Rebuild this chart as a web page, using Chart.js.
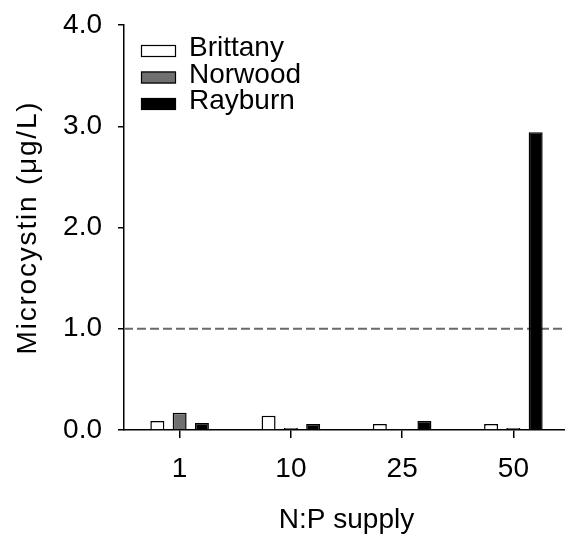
<!DOCTYPE html>
<html>
<head>
<meta charset="utf-8">
<script src="https://cdn.jsdelivr.net/npm/chart.js@4/dist/chart.umd.min.js"></script>
<style>
  html, body { margin: 0; padding: 0; background: #fff; overflow: hidden; }
  canvas { display: block; }
</style>
</head>
<body>
<canvas id="c" width="569" height="537" style="width:569px;height:537px"></canvas>
<script>
// ---- Data ----
const categories = ['1', '10', '25', '50'];
const brittany = [0.09, 0.14, 0.06, 0.06];
const norwood  = [0.17, 0.02, 0.01, 0.02];
const rayburn  = [0.07, 0.06, 0.09, 2.94];
const seriesLabels = ['Brittany', 'Norwood', 'Rayburn'];
const yTicks = [0, 1, 2, 3, 4];
const threshold = 1.0;
const xTitle = 'N:P supply';
const yTitle = 'Microcystin (\u03BCg/L)';

const FONT = "'Liberation Sans', Arial, sans-serif";
const FS = 28;
const fills = ['#ffffff', '#6f6f6f', '#000000'];

const thresholdPlugin = {
  id: 'thresholdLine',
  beforeDatasetsDraw(chart) {
    const { ctx, chartArea, scales } = chart;
    const y = scales.y.getPixelForValue(threshold);
    ctx.save();
    ctx.strokeStyle = '#6a6a6a';
    ctx.lineWidth = 2;
    ctx.setLineDash([9, 4]);
    ctx.beginPath();
    ctx.moveTo(chartArea.left, y);
    ctx.lineTo(chartArea.right, y);
    ctx.stroke();
    ctx.restore();
  }
};

// wider letter spacing for the y-axis title, as in the reference
const titleSpacingPlugin = {
  id: 'titleSpacing',
  afterLayout(chart) {
    const s = chart.scales.y;
    if (s && !s._spacedTitle) {
      const orig = s.drawTitle;
      s.drawTitle = function () {
        this.ctx.save();
        this.ctx.letterSpacing = '1.8px';
        orig.apply(this, arguments);
        this.ctx.restore();
      };
      s._spacedTitle = true;
    }
  }
};

const legendPlugin = {
  id: 'vertLegend',
  afterDraw(chart) {
    const { ctx } = chart;
    ctx.save();
    chart.data.datasets.forEach((ds, i) => {
      const cy = 51 + i * 26.5;
      ctx.fillStyle = ds.backgroundColor;
      ctx.fillRect(141, cy - 6, 35, 12);
      ctx.strokeStyle = '#000';
      ctx.lineWidth = 1.2;
      ctx.strokeRect(141.5, cy - 5.5, 34, 11);
      ctx.fillStyle = '#000';
      ctx.font = FS + 'px ' + FONT;
      ctx.textBaseline = 'middle';
      ctx.textAlign = 'left';
      ctx.fillText(ds.label, 189, cy - 2.5);
    });
    ctx.restore();
  }
};

new Chart(document.getElementById('c'), {
  type: 'bar',
  data: {
    labels: categories,
    datasets: [brittany, norwood, rayburn].map((d, i) => ({
      label: seriesLabels[i],
      data: d,
      backgroundColor: fills[i],
      borderColor: '#000',
      borderWidth: 1.5,
      categoryPercentage: 0.601,
      barPercentage: 0.628
    }))
  },
  options: {
    responsive: false,
    devicePixelRatio: 1,
    animation: false,
    layout: { padding: { top: 25, right: 0, left: 0, bottom: 0 } },
    plugins: { legend: { display: false }, tooltip: { enabled: false } },
    scales: {
      x: {
        offset: true,
        grid: { offset: false, drawOnChartArea: false, drawTicks: true, tickLength: 8, color: '#000', lineWidth: 1.5 },
        border: { color: '#000', width: 1.5 },
        ticks: { color: '#000', font: { family: FONT, size: FS }, padding: 14, maxRotation: 0 },
        title: { display: true, text: xTitle, color: '#000', font: { family: FONT, size: FS }, padding: { top: 0, bottom: 0 } },
        afterFit(scale) { scale.height = 107; scale.paddingLeft = 0; scale.paddingRight = 0; }
      },
      y: {
        min: 0, max: 4,
        afterBuildTicks(scale) { scale.ticks = yTicks.map(v => ({ value: v })); },
        grid: { drawOnChartArea: false, drawTicks: true, tickLength: 6, color: '#000', lineWidth: 1.5 },
        border: { color: '#000', width: 1.5 },
        ticks: { color: '#000', font: { family: FONT, size: FS }, padding: 16, callback: v => Number(v).toFixed(1) },
        title: { display: true, text: yTitle, color: '#000', font: { family: FONT, size: FS }, padding: { top: 11, bottom: 0 } },
        afterFit(scale) { scale.width = 124; scale.paddingTop = 0; scale.paddingBottom = 0; }
      }
    }
  },
  plugins: [thresholdPlugin, titleSpacingPlugin, legendPlugin]
});
</script>
</body>
</html>
